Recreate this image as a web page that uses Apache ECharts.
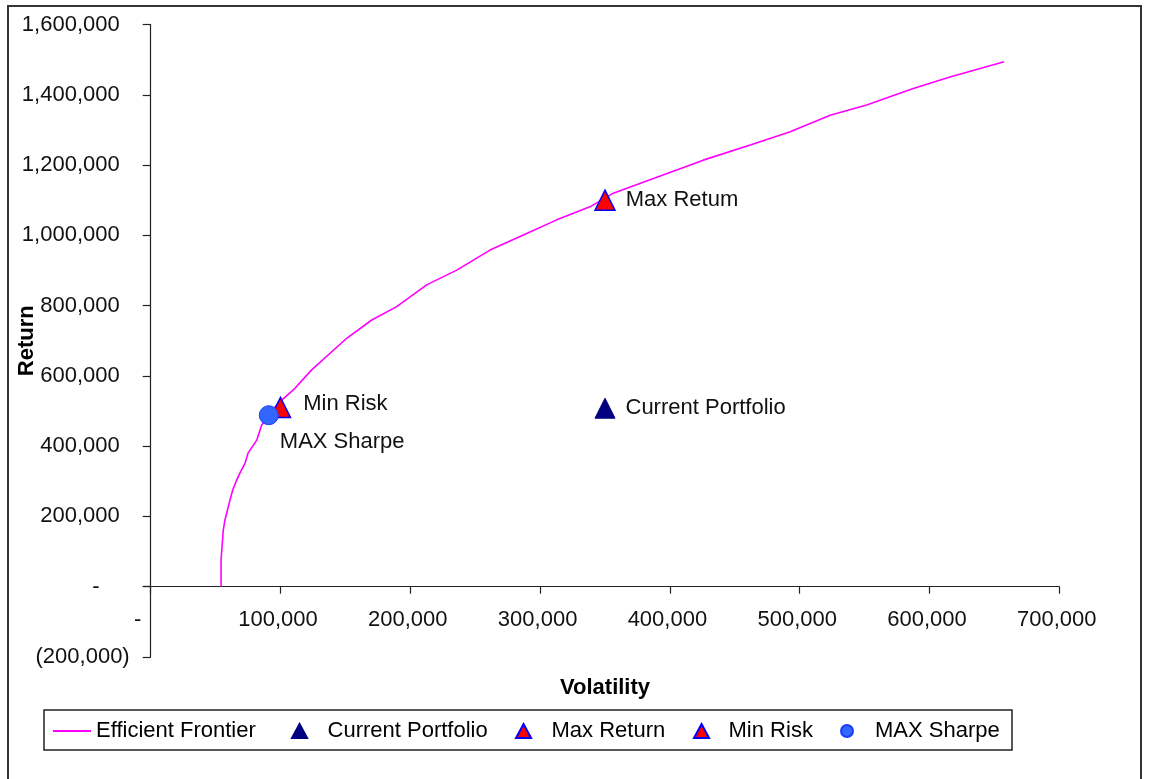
<!DOCTYPE html>
<html>
<head>
<meta charset="utf-8">
<title>Efficient Frontier</title>
<script src="https://cdn.jsdelivr.net/npm/echarts@6/dist/echarts.min.js"></script>
<style>
  html, body { margin: 0; padding: 0; background: #fff; }
  #chart { width: 1149px; height: 779px; }
</style>
</head>
<body>
<div id="chart"></div>
<script>
// Efficient frontier: volatility vs. return
const frontierVol = [54200, 54200, 55900, 57200, 61100, 63200, 66300, 68800, 72700, 75000,
  81700, 85500, 91100, 96000, 100900, 109900, 124000, 151000, 170300, 189500,
  212600, 235800, 261400, 287100, 312800, 338400, 356400, 384700, 425700, 461900,
  492700, 523500, 551600, 587500, 616400, 657500];
const frontierRet = [0, 76000, 161000, 190000, 247000, 275000, 304000, 324000, 352000, 380000,
  417000, 460000, 488000, 512000, 531000, 560000, 617000, 707000, 759000, 797000,
  859000, 901000, 958000, 1001000, 1044000, 1081000, 1120000, 1158000, 1214000, 1257000,
  1295000, 1342000, 1371000, 1418000, 1451000, 1494000];

// Named portfolios [volatility, return]
const currentPortfolio = [350000, 508000];
const maxReturn = [350000, 1100000];
const minRisk = [100000, 510000];
const maxSharpe = [91000, 488000];

const seriesNames = ['Efficient Frontier', 'Current Portfolio', 'Max Return', 'Min Risk', 'MAX Sharpe'];
const pointLabels = ['Current Portfolio', 'Max Retum', 'Min Risk', 'MAX Sharpe'];
const xTicks = { min: 0, max: 700000, step: 100000 };
const yTicks = { min: 0, max: 1600000, step: 200000 };
const yNegTicks = { min: -200000, max: 0, step: 200000 };

const FONT = "'Liberation Sans', Arial, sans-serif";
const TXT = '#111';
const AXIS = '#222';
const fmt = v => Math.abs(v).toLocaleString('en-US');

// legend icons as paths so they keep their proportions inside a wide icon box
const TRIANGLE_ICON = 'path://M7,0 L14,13 L0,13 Z';
const CIRCLE_ICON = 'path://M12,6 A6,6 0 1 1 0,6 A6,6 0 1 1 12,6 Z';

// plot area: upper grid holds the data (return >= 0), lower strip continues the return axis below zero
const PLOT_LEFT = 150.7, PLOT_RIGHT = 89.7, PLOT_TOP = 24.5, ZERO_Y = 586.7, NEG_BOTTOM = 657;

const chart = echarts.init(document.getElementById('chart'), null, { renderer: 'canvas' });

// a legend entry is placed by the left edge of its visible icon
function legendFor(item, left, width, height, extra) {
  return Object.assign({
    data: [item],
    left: left,
    top: 720,
    padding: 0,
    itemWidth: width,
    itemHeight: height,
    symbolKeepAspect: true,
    selectedMode: false,
    textStyle: { fontFamily: FONT, fontSize: 22, color: '#000' }
  }, extra || {});
}

const tickStyle = { color: AXIS, width: 1.2 };

const option = {
  animation: false,
  backgroundColor: '#fff',
  grid: [
    { left: PLOT_LEFT, right: PLOT_RIGHT, top: PLOT_TOP, height: ZERO_Y - PLOT_TOP,
      containLabel: false, outerBoundsMode: 'none' },
    { left: PLOT_LEFT, right: PLOT_RIGHT, top: ZERO_Y, height: NEG_BOTTOM - ZERO_Y,
      containLabel: false, outerBoundsMode: 'none' }
  ],
  legend: [
    legendFor(seriesNames[0], 52, 38, 13, { itemStyle: { opacity: 0 } }),
    legendFor({ name: seriesNames[1], icon: TRIANGLE_ICON }, 291, 46, 14),
    legendFor({ name: seriesNames[2], icon: TRIANGLE_ICON }, 515, 46, 14),
    legendFor({ name: seriesNames[3], icon: TRIANGLE_ICON }, 693, 44, 14),
    legendFor({ name: seriesNames[4], icon: CIRCLE_ICON }, 840, 46, 12)
  ],
  xAxis: [
    {
      gridIndex: 0,
      type: 'value',
      position: 'bottom',
      min: xTicks.min, max: xTicks.max, interval: xTicks.step,
      name: 'Volatility',
      nameLocation: 'middle',
      nameGap: 90,
      nameMoveOverlap: false,
      nameTextStyle: { fontFamily: FONT, fontSize: 22, fontWeight: 'bold', color: '#000' },
      axisLine: { onZero: false, lineStyle: tickStyle },
      axisTick: { show: true, length: 7, lineStyle: tickStyle },
      splitLine: { show: false },
      axisLabel: {
        margin: 22,
        fontFamily: FONT, fontSize: 22, color: TXT,
        formatter: v => v === 0 ? '{z|-}' : '{p|' + fmt(v) + '}',
        rich: {
          p: { fontFamily: FONT, fontSize: 22, color: TXT, padding: [0, 5, 0, 0] },
          z: { fontFamily: FONT, fontSize: 22, color: TXT, padding: [0, 26, 0, 0] }
        }
      }
    },
    {
      gridIndex: 1,
      type: 'value',
      min: xTicks.min, max: xTicks.max,
      show: false
    }
  ],
  yAxis: [
    {
      gridIndex: 0,
      type: 'value',
      min: yTicks.min, max: yTicks.max, interval: yTicks.step,
      nameMoveOverlap: false,
      axisLine: { show: true, onZero: false, lineStyle: tickStyle },
      axisTick: { show: true, length: 8, lineStyle: tickStyle },
      splitLine: { show: false },
      axisLabel: {
        margin: 21,
        fontFamily: FONT, fontSize: 22, color: TXT,
        formatter: v => v === 0 ? '{z|-}' : '{p|' + fmt(v) + '}',
        rich: {
          p: { fontFamily: FONT, fontSize: 22, color: TXT, padding: [0, 10, 0, 0] },
          z: { fontFamily: FONT, fontSize: 22, color: TXT, padding: [0, 30, 0, 0] }
        }
      }
    },
    {
      gridIndex: 1,
      type: 'value',
      min: yNegTicks.min, max: yNegTicks.max, interval: yNegTicks.step,
      nameMoveOverlap: false,
      axisLine: { show: true, onZero: false, lineStyle: tickStyle },
      axisTick: { show: true, length: 8, lineStyle: tickStyle },
      splitLine: { show: false },
      axisLabel: {
        margin: 21,
        fontFamily: FONT, fontSize: 22, color: TXT,
        formatter: v => v < 0 ? '(' + fmt(v) + ')' : ''
      }
    }
  ],
  series: [
    {
      name: seriesNames[0],
      type: 'line',
      symbol: 'none',
      smooth: false,
      data: frontierVol.map((v, i) => [v, frontierRet[i]]),
      lineStyle: { color: '#ff00ff', width: 1.6 },
      itemStyle: { color: '#ff00ff' },
      z: 2
    },
    {
      name: seriesNames[1],
      type: 'scatter',
      symbol: 'triangle',
      symbolSize: 20,
      data: [currentPortfolio],
      itemStyle: { color: '#000080', borderColor: '#000080', borderWidth: 1, opacity: 1 },
      label: {
        show: true, position: 'right', distance: 10,
        formatter: pointLabels[0],
        fontFamily: FONT, fontSize: 22, color: TXT
      },
      z: 3
    },
    {
      name: seriesNames[2],
      type: 'scatter',
      symbol: 'triangle',
      symbolSize: 20,
      data: [maxReturn],
      itemStyle: { color: '#ff0000', borderColor: '#0000ff', borderWidth: 1.5, opacity: 1 },
      label: {
        show: true, position: 'right', distance: 10,
        formatter: pointLabels[1],
        fontFamily: FONT, fontSize: 22, color: TXT
      },
      z: 4
    },
    {
      name: seriesNames[3],
      type: 'scatter',
      symbol: 'triangle',
      symbolSize: 20,
      data: [minRisk],
      itemStyle: { color: '#ff0000', borderColor: '#0000ff', borderWidth: 1.5, opacity: 1 },
      label: {
        show: true, position: 'right', distance: 12, offset: [0, -4],
        formatter: pointLabels[2],
        fontFamily: FONT, fontSize: 22, color: TXT
      },
      z: 5
    },
    {
      name: seriesNames[4],
      type: 'scatter',
      symbol: 'circle',
      symbolSize: 19,
      data: [maxSharpe],
      itemStyle: { color: '#3366ff', borderColor: '#1a3cff', borderWidth: 1, opacity: 1 },
      label: {
        show: true, position: 'right', distance: 1, offset: [0, 27],
        formatter: pointLabels[3],
        fontFamily: FONT, fontSize: 22, color: TXT
      },
      z: 6
    }
  ],
  graphic: [
    {
      type: 'rect', silent: true, z: -10,
      shape: { x: 8, y: 6, width: 1133, height: 800 },
      style: { fill: 'none', stroke: '#333', lineWidth: 2 }
    },
    {
      type: 'rect', silent: true, z: -10,
      shape: { x: 44, y: 710, width: 968, height: 40 },
      style: { fill: 'none', stroke: '#222', lineWidth: 1.5 }
    },
    {
      // title of the return axis, centred on the full axis span
      type: 'text', silent: true,
      x: 27, y: (PLOT_TOP + NEG_BOTTOM) / 2,
      rotation: Math.PI / 2,
      style: {
        text: 'Return',
        font: 'bold 22px ' + FONT,
        fill: '#000',
        align: 'center',
        verticalAlign: 'middle'
      }
    }
  ]
};

chart.setOption(option);
</script>
</body>
</html>
